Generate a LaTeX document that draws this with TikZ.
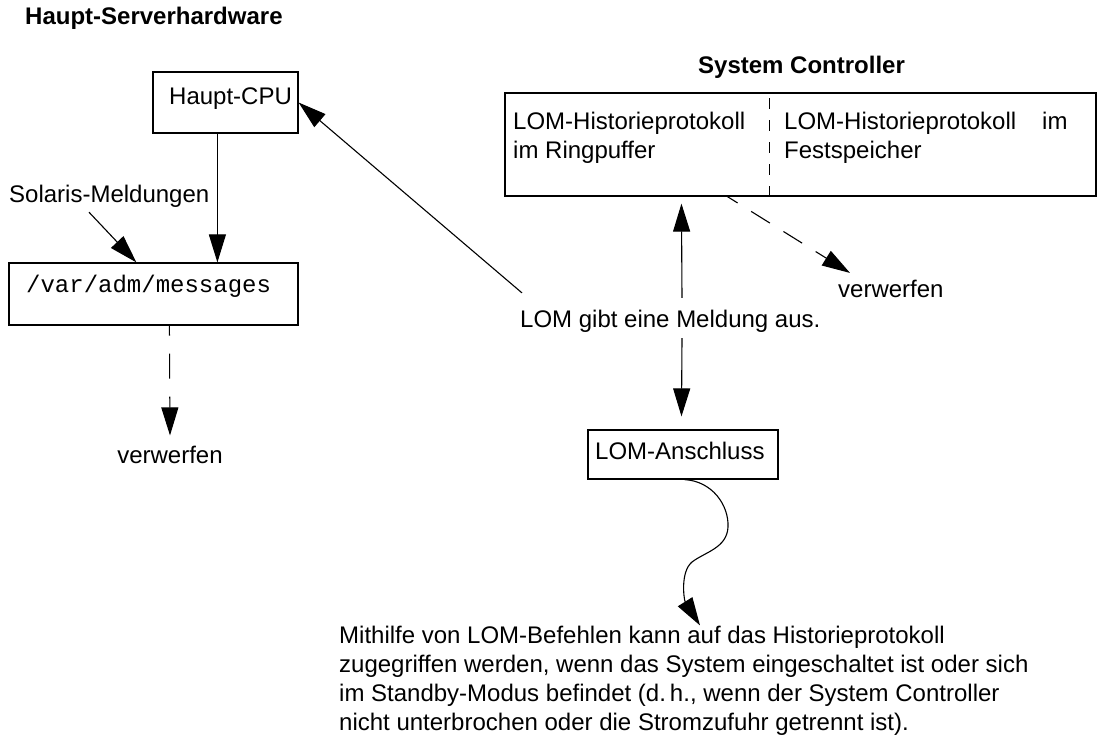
\documentclass[tikz,border=0pt]{standalone}
\usepackage{fontspec}
\setmainfont{Liberation Sans}
\setmonofont{Liberation Mono}
\usetikzlibrary{arrows.meta,calc}
\begin{document}
\begin{tikzpicture}[x=1pt,y=-1pt,
  txt/.style={inner sep=0pt, anchor=base west, font=\fontsize{24}{29}\selectfont},
  ttl/.style={inner sep=0pt, anchor=base west, font=\fontsize{24}{29}\selectfont\bfseries},
  mono/.style={inner sep=0pt, anchor=base west, font=\fontsize{24}{29}\selectfont\ttfamily},
  box/.style={draw, line width=1.2pt, inner sep=0pt},
  arr/.style={line width=1.1pt, -{Triangle[length=28pt,width=17pt]}},
  dashL/.style={dash pattern=on 25pt off 18pt, dash phase=15pt},
  dashR/.style={dash pattern=on 22pt off 16pt, dash phase=10pt},
  divider/.style={line width=1.1pt, dash pattern=on 11pt off 11pt}]
\useasboundingbox (0,0) rectangle (1097,737);

% titles
\node[ttl] (t1) at (25,24) {Haupt-Serverhardware};
\node[ttl] (t2) at (698,73) {System Controller};

% left side
\node[box, minimum width=145pt, minimum height=61pt] (cpu) at (225.5,102.5) {};
\node[txt] (cpuT) at (169,104) {Haupt-CPU};
\node[box, minimum width=289pt, minimum height=62pt] (msgs) at (153.5,294) {};
\node[mono] (msgT) at (26,292) {/var/adm/messages};
\node[txt] (sol) at (9,202) {Solaris-Meldungen};
\node[txt, anchor=base] (v1) at (170,463) {verwerfen};

\draw[arr] ($(sol.south west)+(80,5)$) -- ($(msgs.north west)+(128,0)$);
\draw[arr] ($(cpu.south west)+(65,0)$) -- ($(msgs.north west)+(209,0)$);
\draw[arr, dashL] ($(msgs.south west)+(161,0)$) -- ($(v1.north)+(0,-10)$);

% system controller
\node[box, minimum width=591pt, minimum height=103pt] (sc) at (800.5,144.5) {};
\draw[divider] ($(sc.north west)+(265,6)$) -- ($(sc.south west)+(265,0)$);
\node[txt] (h1) at (513,129) {LOM-Historieprotokoll};
\node[txt] (h2) at (513,158) {im Ringpuffer};
\node[txt] (h3) at (784,129) {LOM-Historieprotokoll\hspace{26pt}im};
\node[txt] (h4) at (784,158) {Festspeicher};
\node[txt] (v2) at (838,297) {verwerfen};
\draw[arr, dashR] ($(sc.south west)+(223,0)$) -- ($(v2.north west)+(12,-6.5)$);

% LOM message
\node[txt] (lom) at (520,327) {LOM gibt eine Meldung aus.};
\draw[arr] ($(lom.north west)+(2,-16.5)$) -- (cpu.east);
\draw[arr, shorten >=7pt] ($(lom.north west)+(162,-11.5)$) -- ($(sc.south west)+(177,0)$);

% LOM-Anschluss
\node[box, minimum width=190pt, minimum height=49pt] (ans) at (683,454.5) {};
\node[txt] (ansT) at (595,459) {LOM-Anschluss};
\draw[arr, shorten >=13pt] ($(lom.south west)+(162,6)$) -- ($(ans.north west)+(94,0)$);

% note
\node[txt] (b1) at (339,643) {Mithilfe von LOM-Befehlen kann auf das Historieprotokoll};
\node[txt] (b2) at (339,672) {zugegriffen werden, wenn das System eingeschaltet ist oder sich};
\node[txt] (b3) at (339,701) {im Standby-Modus befindet (d.\,h., wenn der System Controller};
\node[txt] (b4) at (339,730) {nicht unterbrochen oder die Stromzufuhr getrennt ist).};

\coordinate (curveEnd) at ($(b1.north west)+(361,0)$);
\draw[arr] ($(ans.south west)+(97,0)$) .. controls (712,481) and (729,505) .. (728,527)
  .. controls (727,548) and (705,552) .. (692,562)
  .. controls (680,572) and (684,600) .. (curveEnd);
\end{tikzpicture}
\end{document}
